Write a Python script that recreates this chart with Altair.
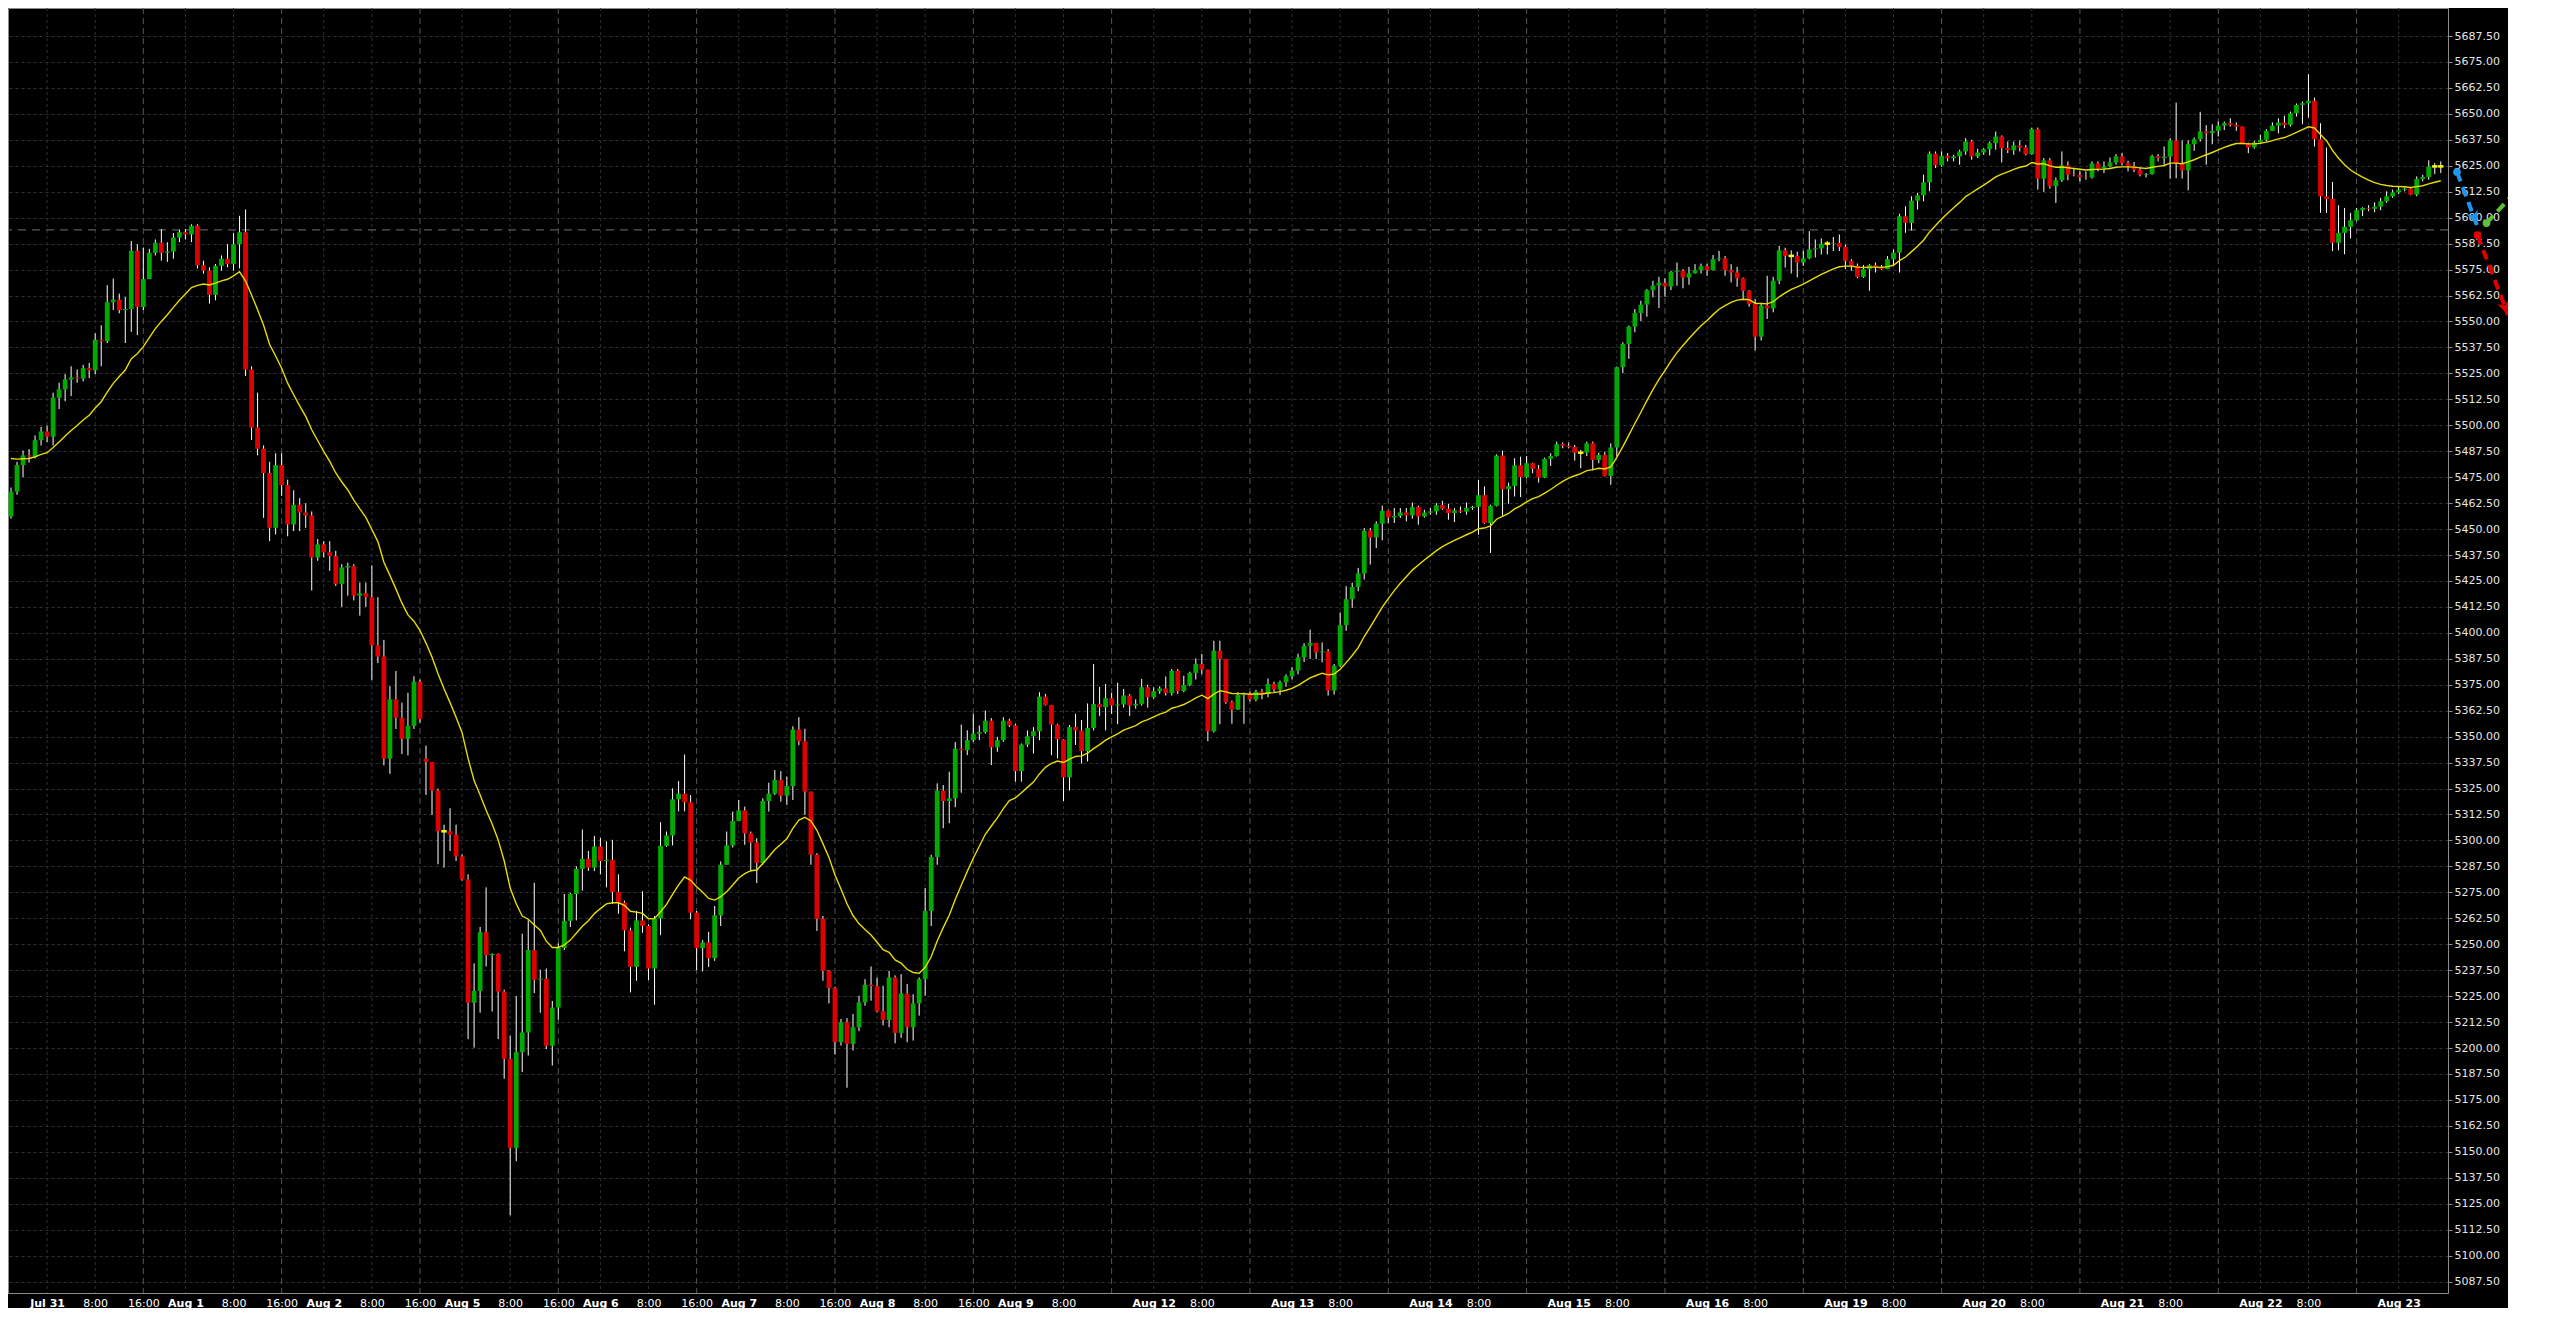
import math
import altair as alt
import pandas as pd

# ---------------- data (hourly candles) ----------------
close = [
    # 0-9
    5468.0, 5480.8, 5485.5, 5485.0, 5492.8, 5497.0, 5494.5, 5513.2, 5517.3, 5522.1,
    # 10-19
    5523.0, 5522.5, 5527.5, 5526.5, 5541.2, 5540.5, 5559.3, 5560.5, 5555.5, 5556.0,
    # 20-29
    5584.0, 5557.0, 5570.4, 5583.1, 5587.9, 5583.1, 5583.7, 5590.4, 5593.0, 5591.9,
    # 30-39
    5596.1, 5577.1, 5574.5, 5562.8, 5576.8, 5580.2, 5577.7, 5587.2, 5593.0, 5526.9,
    # 40-49
    5498.9, 5488.7, 5477.0, 5450.6, 5480.8, 5471.2, 5452.2, 5461.7, 5458.0, 5456.6,
    # 50-59
    5436.3, 5442.6, 5438.8, 5437.0, 5423.6, 5431.5, 5432.2, 5417.9, 5419.1, 5417.2,
    # 60-69
    5394.0, 5388.6, 5339.4, 5368.0, 5359.1, 5348.9, 5355.2, 5376.5, 5358.4, 5337.8,
    # 70-79
    5324.1, 5304.4, 5304.4, 5302.8, 5292.3, 5281.2, 5221.8, 5227.5, 5255.8, 5244.7,
    # 80-89
    5245.3, 5227.2, 5194.8, 5151.9, 5198.0, 5207.5, 5247.2, 5232.9, 5233.4, 5201.1,
    # 90-99
    5219.5, 5248.2, 5261.3, 5274.2, 5286.3, 5291.1, 5286.9, 5297.1, 5290.1, 5290.7,
    # 100-109
    5275.2, 5270.1, 5256.7, 5239.1, 5261.5, 5258.8, 5238.3, 5262.4, 5297.4, 5302.4,
    # 110-119
    5319.8, 5322.5, 5318.4, 5265.2, 5248.1, 5250.8, 5243.3, 5263.9, 5288.3, 5297.6,
    # 120-129
    5309.4, 5314.5, 5303.4, 5299.0, 5289.1, 5319.0, 5322.5, 5329.2, 5321.6, 5326.2,
    # 130-139
    5353.4, 5347.8, 5323.5, 5293.1, 5262.3, 5237.2, 5228.9, 5202.8, 5212.4, 5202.0,
    # 140-149
    5210.0, 5222.0, 5230.5, 5229.8, 5217.7, 5213.5, 5234.0, 5207.3, 5226.3, 5210.0,
    # 150-159
    5221.5, 5233.2, 5266.0, 5292.0, 5324.0, 5319.0, 5320.3, 5344.2, 5343.5, 5348.3,
    # 160-169
    5351.4, 5352.2, 5357.7, 5344.9, 5348.3, 5357.7, 5355.4, 5333.4, 5346.2, 5350.2,
    # 170-179
    5352.6, 5369.3, 5365.3, 5355.8, 5348.7, 5330.4, 5354.6, 5353.0, 5343.0, 5354.2,
    # 180-189
    5365.7, 5364.2, 5368.5, 5365.0, 5365.5, 5369.8, 5365.0, 5365.8, 5373.8, 5369.0,
    # 190-199
    5371.9, 5373.2, 5371.0, 5381.7, 5372.0, 5374.9, 5380.7, 5385.0, 5382.3, 5352.6,
    # 200-209
    5391.4, 5387.4, 5366.6, 5363.0, 5370.1, 5370.8, 5367.9, 5371.7, 5370.6, 5375.4,
    # 210-219
    5372.7, 5376.2, 5379.1, 5381.8, 5388.2, 5393.8, 5395.1, 5390.6, 5391.1, 5372.2,
    # 220-229
    5384.2, 5403.7, 5416.2, 5422.1, 5428.6, 5449.2, 5446.0, 5452.6, 5458.8, 5455.6,
    # 230-239
    5456.3, 5458.0, 5456.6, 5460.6, 5456.1, 5457.9, 5458.5, 5461.5, 5459.8, 5457.7,
    # 240-249
    5459.0, 5458.4, 5460.1, 5460.7, 5466.3, 5452.9, 5461.2, 5485.4, 5469.2, 5470.8,
    # 250-259
    5480.7, 5475.0, 5481.7, 5479.0, 5474.8, 5483.8, 5485.2, 5490.9, 5490.1, 5489.5,
    # 260-269
    5486.8, 5486.8, 5491.3, 5483.3, 5485.7, 5475.6, 5489.3, 5528.0, 5539.2, 5547.5,
    # 270-279
    5554.1, 5558.1, 5565.1, 5567.3, 5568.6, 5566.9, 5573.9, 5574.4, 5571.2, 5573.2,
    # 280-289
    5574.7, 5576.6, 5574.8, 5580.0, 5580.4, 5574.7, 5573.6, 5570.8, 5564.8, 5558.4,
    # 290-299
    5542.7, 5557.6, 5556.3, 5569.6, 5584.3, 5581.6, 5581.6, 5578.4, 5580.4, 5584.7,
    # 300-309
    5585.2, 5587.5, 5587.5, 5587.8, 5585.9, 5579.2, 5576.8, 5571.5, 5575.2, 5577.1,
    # 310-319
    5576.0, 5575.2, 5580.0, 5583.1, 5600.7, 5597.5, 5608.2, 5610.8, 5617.0, 5630.9,
    # 320-329
    5625.2, 5629.8, 5628.7, 5629.5, 5631.9, 5636.7, 5629.5, 5631.4, 5633.0, 5635.9,
    # 330-339
    5639.1, 5633.5, 5632.5, 5634.8, 5633.8, 5630.6, 5642.6, 5618.8, 5627.6, 5615.1,
    # 340-349
    5618.0, 5625.2, 5620.7, 5620.5, 5619.6, 5619.4, 5626.1, 5623.6, 5624.7, 5626.6,
    # 350-359
    5629.5, 5626.3, 5624.8, 5623.1, 5620.7, 5621.0, 5629.6, 5628.7, 5629.4, 5637.2,
    # 360-369
    5626.3, 5622.8, 5635.4, 5637.8, 5641.5, 5640.7, 5641.8, 5644.3, 5645.5, 5644.7,
    # 370-379
    5643.9, 5635.9, 5633.8, 5636.2, 5637.5, 5641.8, 5644.3, 5645.8, 5644.7, 5650.3,
    # 380-389
    5654.3, 5655.1, 5656.3, 5637.8, 5610.3, 5609.0, 5587.9, 5592.7, 5595.6, 5598.7,
    # 390-399
    5603.6, 5604.7, 5604.3, 5605.3, 5607.9, 5610.3, 5612.2, 5613.5, 5614.0, 5611.1,
    # 400-404
    5618.6, 5619.6, 5624.7, 5624.7, 5624.7,
]

high = [
    5470.0, 5482.4, 5487.8, 5488.5, 5495.1, 5499.2, 5499.8, 5515.7, 5520.5, 5524.6,
    5528.4, 5526.9, 5529.1, 5530.0, 5544.3, 5548.2, 5567.5, 5570.7, 5563.4, 5561.8,
    5588.8, 5587.2, 5585.6, 5585.0, 5589.5, 5594.5, 5588.2, 5592.6, 5594.2, 5594.5,
    5596.8, 5596.8, 5579.3, 5576.1, 5577.7, 5581.8, 5587.2, 5592.6, 5600.9, 5604.0,
    5528.4, 5515.7, 5490.3, 5482.4, 5486.5, 5486.5, 5473.8, 5468.7, 5464.9, 5462.4,
    5458.5, 5445.2, 5444.2, 5444.2, 5439.5, 5433.1, 5433.8, 5433.1, 5424.2, 5424.2,
    5432.5, 5417.2, 5396.6, 5374.3, 5381.6, 5366.4, 5371.1, 5379.1, 5377.5, 5345.7,
    5337.8, 5325.0, 5307.6, 5315.5, 5307.6, 5293.3, 5283.7, 5240.8, 5258.3, 5277.4,
    5245.6, 5245.6, 5228.1, 5205.9, 5225.0, 5255.1, 5261.5, 5279.6, 5237.7, 5238.3,
    5222.7, 5250.4, 5274.2, 5274.8, 5287.6, 5305.3, 5294.9, 5302.2, 5301.2, 5299.6,
    5300.3, 5283.7, 5271.0, 5258.0, 5266.0, 5275.5, 5259.6, 5263.6, 5308.8, 5304.3,
    5325.1, 5328.6, 5341.4, 5321.9, 5266.0, 5252.0, 5256.0, 5268.4, 5289.9, 5304.3,
    5313.9, 5319.5, 5316.3, 5304.3, 5301.1, 5320.3, 5327.8, 5333.9, 5333.4, 5330.7,
    5355.0, 5359.4, 5353.8, 5323.0, 5293.9, 5263.6, 5237.6, 5229.5, 5214.0, 5214.4,
    5216.4, 5225.2, 5233.2, 5239.3, 5234.0, 5230.0, 5237.2, 5235.0, 5235.6, 5230.8,
    5225.9, 5234.0, 5277.1, 5293.1, 5327.5, 5326.7, 5333.1, 5347.4, 5355.8, 5353.1,
    5361.0, 5355.4, 5362.6, 5358.9, 5349.9, 5359.4, 5358.6, 5356.2, 5346.7, 5353.0,
    5354.6, 5371.4, 5370.6, 5365.0, 5356.2, 5348.9, 5355.6, 5361.0, 5358.0, 5366.0,
    5385.0, 5374.0, 5375.4, 5371.0, 5376.0, 5373.0, 5370.5, 5368.0, 5377.8, 5375.0,
    5373.8, 5374.3, 5379.0, 5382.6, 5382.6, 5379.4, 5381.3, 5387.7, 5389.8, 5382.3,
    5396.2, 5396.2, 5387.4, 5367.4, 5371.4, 5371.2, 5371.6, 5372.6, 5373.0, 5378.0,
    5376.5, 5377.0, 5380.0, 5383.5, 5390.0, 5395.0, 5401.5, 5395.1, 5395.4, 5392.2,
    5385.0, 5409.8, 5422.5, 5424.2, 5431.3, 5450.5, 5450.5, 5453.7, 5461.2, 5459.0,
    5460.1, 5460.1, 5460.1, 5462.8, 5461.2, 5459.3, 5460.1, 5462.5, 5463.6, 5462.2,
    5460.1, 5460.9, 5462.8, 5461.2, 5473.7, 5470.5, 5461.7, 5486.0, 5487.8, 5472.4,
    5484.1, 5484.9, 5485.2, 5482.0, 5480.9, 5484.4, 5486.5, 5492.1, 5491.7, 5491.7,
    5490.5, 5488.1, 5492.1, 5492.1, 5486.8, 5487.3, 5491.3, 5528.3, 5540.0, 5548.0,
    5556.0, 5560.0, 5565.6, 5569.6, 5571.5, 5570.8, 5574.4, 5578.4, 5575.2, 5576.3,
    5577.6, 5577.9, 5577.9, 5582.0, 5584.0, 5581.5, 5577.6, 5576.3, 5571.2, 5565.1,
    5560.8, 5558.4, 5572.0, 5571.5, 5586.4, 5585.5, 5584.3, 5583.6, 5584.0, 5593.5,
    5589.5, 5590.0, 5588.7, 5590.7, 5591.9, 5587.1, 5580.0, 5577.9, 5577.2, 5577.6,
    5578.4, 5577.2, 5581.5, 5584.7, 5601.9, 5605.5, 5610.3, 5611.9, 5620.7, 5631.9,
    5631.9, 5631.9, 5631.1, 5630.3, 5632.7, 5638.3, 5637.5, 5633.2, 5633.5, 5636.7,
    5641.5, 5639.6, 5636.7, 5636.7, 5637.2, 5635.1, 5643.4, 5643.4, 5628.7, 5628.7,
    5619.4, 5631.9, 5627.1, 5623.9, 5622.3, 5622.3, 5627.1, 5627.1, 5627.1, 5629.0,
    5630.6, 5631.1, 5627.4, 5626.8, 5624.2, 5621.5, 5630.3, 5630.6, 5634.3, 5638.3,
    5655.4, 5637.2, 5637.2, 5638.6, 5651.0, 5644.6, 5645.0, 5646.3, 5646.3, 5647.9,
    5645.9, 5643.9, 5636.2, 5637.0, 5639.9, 5642.6, 5645.9, 5647.9, 5649.1, 5651.1,
    5655.0, 5655.9, 5669.1, 5657.8, 5645.5, 5633.8, 5617.2, 5606.0, 5604.7, 5602.3,
    5604.7, 5605.0, 5606.0, 5607.4, 5609.5, 5612.7, 5613.5, 5615.1, 5614.6, 5614.3,
    5619.9, 5620.7, 5627.6, 5626.3, 5627.1,
]

low = [
    5455.0, 5466.5, 5475.0, 5482.0, 5484.0, 5490.3, 5491.9, 5490.3, 5507.8, 5511.6,
    5514.1, 5520.5, 5521.1, 5522.7, 5524.6, 5528.4, 5539.6, 5555.5, 5553.9, 5539.6,
    5545.0, 5543.4, 5555.5, 5571.4, 5581.8, 5579.3, 5578.7, 5580.2, 5588.2, 5589.5,
    5588.2, 5575.5, 5573.0, 5558.6, 5560.2, 5574.5, 5576.1, 5574.5, 5575.5, 5523.7,
    5492.9, 5485.5, 5455.4, 5444.2, 5447.4, 5466.0, 5446.5, 5449.0, 5449.0, 5450.6,
    5420.4, 5434.7, 5436.3, 5429.9, 5422.6, 5412.5, 5417.9, 5415.6, 5408.3, 5412.5,
    5377.2, 5385.4, 5336.2, 5332.1, 5353.7, 5341.6, 5341.0, 5353.7, 5356.8, 5321.9,
    5312.3, 5288.5, 5286.9, 5294.9, 5290.1, 5280.6, 5204.3, 5200.2, 5217.0, 5239.3,
    5217.6, 5204.3, 5185.2, 5119.4, 5145.5, 5188.4, 5196.4, 5226.5, 5217.0, 5199.5,
    5191.6, 5213.8, 5247.2, 5258.3, 5261.5, 5275.8, 5285.3, 5285.3, 5283.7, 5277.4,
    5269.4, 5264.7, 5246.6, 5226.8, 5232.4, 5255.5, 5232.7, 5220.9, 5254.4, 5296.9,
    5297.6, 5314.0, 5314.0, 5262.0, 5237.5, 5236.9, 5239.0, 5242.0, 5258.8, 5289.9,
    5296.6, 5309.2, 5297.9, 5285.1, 5279.5, 5288.3, 5313.9, 5321.9, 5318.7, 5317.1,
    5319.5, 5345.9, 5312.3, 5288.3, 5256.4, 5232.4, 5221.5, 5196.9, 5201.2, 5180.9,
    5198.8, 5208.1, 5220.4, 5222.8, 5217.2, 5210.9, 5210.0, 5202.3, 5204.9, 5202.8,
    5203.6, 5215.6, 5225.2, 5258.8, 5288.3, 5305.9, 5308.3, 5316.0, 5323.0, 5341.1,
    5347.5, 5348.3, 5351.4, 5336.3, 5342.7, 5347.5, 5354.6, 5328.3, 5328.3, 5345.1,
    5341.9, 5348.3, 5365.0, 5341.1, 5339.5, 5319.0, 5324.0, 5346.0, 5337.0, 5338.0,
    5353.0, 5360.0, 5353.0, 5361.0, 5356.0, 5364.0, 5360.0, 5363.5, 5365.0, 5364.0,
    5368.2, 5370.6, 5369.8, 5369.8, 5370.6, 5371.4, 5374.3, 5377.5, 5380.0, 5347.8,
    5352.0, 5356.0, 5365.8, 5356.2, 5362.9, 5356.2, 5367.0, 5367.0, 5368.0, 5369.0,
    5371.5, 5370.0, 5374.0, 5377.5, 5380.0, 5386.0, 5387.4, 5387.4, 5385.8, 5369.8,
    5370.3, 5383.5, 5401.0, 5412.0, 5420.0, 5425.7, 5432.9, 5440.9, 5444.6, 5452.9,
    5452.9, 5455.3, 5453.7, 5455.0, 5452.1, 5455.5, 5456.9, 5456.9, 5459.3, 5454.5,
    5453.4, 5457.7, 5456.9, 5459.3, 5447.3, 5452.6, 5438.5, 5460.9, 5456.4, 5462.2,
    5465.7, 5465.4, 5474.5, 5476.9, 5472.4, 5474.5, 5480.4, 5484.9, 5488.9, 5488.9,
    5483.0, 5479.3, 5485.2, 5478.2, 5481.7, 5475.3, 5471.3, 5484.9, 5525.1, 5532.0,
    5544.8, 5550.1, 5552.3, 5561.6, 5556.5, 5561.9, 5565.1, 5567.2, 5566.0, 5567.7,
    5573.0, 5573.1, 5572.0, 5574.5, 5579.0, 5572.0, 5568.8, 5566.7, 5560.3, 5557.1,
    5536.0, 5540.8, 5551.2, 5554.4, 5568.0, 5576.0, 5573.1, 5571.2, 5576.8, 5580.0,
    5580.8, 5582.3, 5582.3, 5583.9, 5583.9, 5575.2, 5574.4, 5570.8, 5571.0, 5564.8,
    5573.6, 5574.8, 5575.6, 5576.8, 5573.6, 5592.7, 5593.9, 5603.9, 5607.9, 5612.7,
    5623.9, 5624.5, 5627.1, 5627.1, 5625.5, 5630.3, 5627.9, 5628.7, 5630.3, 5630.0,
    5632.7, 5626.6, 5631.1, 5630.3, 5631.9, 5630.0, 5630.3, 5613.5, 5612.4, 5614.0,
    5607.1, 5617.2, 5618.0, 5619.9, 5617.5, 5618.3, 5618.8, 5622.3, 5621.5, 5624.2,
    5625.5, 5625.2, 5622.3, 5622.0, 5619.9, 5619.4, 5620.7, 5627.1, 5625.5, 5618.8,
    5619.0, 5618.8, 5613.2, 5632.2, 5636.7, 5625.5, 5635.4, 5639.1, 5642.2, 5643.9,
    5641.8, 5635.4, 5631.1, 5633.2, 5635.4, 5636.7, 5641.8, 5640.7, 5643.1, 5643.9,
    5648.7, 5645.0, 5648.2, 5634.3, 5602.3, 5602.3, 5583.9, 5584.3, 5582.4, 5590.0,
    5598.3, 5600.7, 5603.1, 5602.6, 5603.6, 5607.1, 5609.5, 5611.4, 5612.7, 5610.8,
    5610.3, 5617.5, 5618.3, 5621.0, 5621.5,
]

# opens differ from the previous close only at these bars (first bar, weekend gap)
gap_open = {0: 5456.0, 69: 5339.4}

# session structure: 6 bars before Jul 31 00:00, then 23 hourly bars per day
days = ["Jul 31", "Aug 1", "Aug 2", "Aug 5", "Aug 6", "Aug 7", "Aug 8", "Aug 9",
        "Aug 12", "Aug 13", "Aug 14", "Aug 15", "Aug 16", "Aug 19", "Aug 20",
        "Aug 21", "Aug 22", "Aug 23"]
pre_bars = 6
bars_per_day = 23
days_with_16 = 7          # days that still show a "16:00" label

level_line = 5594.1       # dashed horizontal level
ema_period = 20
ema_start = 5484.0        # indicator value visible at the first bar

y_ticks = [5087.5 + 12.5 * k for k in range(49)]

arrow_names = ["blue", "green", "red"]
arrow_x0 = [406.7, 411.6, 410.1]
arrow_y0 = [5622.0, 5597.4, 5591.6]
arrow_x1 = [410.0, 421.8, 415.2]
arrow_y1 = [5596.5, 5629.2, 5553.1]

# ---------------- build tables ----------------
n = len(close)
assert len(high) == n and len(low) == n
opens = [gap_open.get(i, close[i - 1] if i > 0 else close[0]) for i in range(n)]
hi = [max(h, o, c) for h, o, c in zip(high, opens, close)]
lo = [min(l, o, c) for l, o, c in zip(low, opens, close)]
kind = ["flat" if abs(c - o) < 1e-9 else ("up" if c > o else "down") for o, c in zip(opens, close)]

alpha = 2.0 / (ema_period + 1)
ema = [ema_start]
for c in close[1:]:
    ema.append(ema[-1] + alpha * (c - ema[-1]))

df = pd.DataFrame({"i": list(range(n)), "open": opens, "high": hi, "low": lo,
                   "close": close, "kind": kind, "ma": ema})

tick_pos, tick_lab, day_pos = [], [], []
dim_pos, bright_pos = [], []
for d, name in enumerate(days):
    p0 = pre_bars + bars_per_day * d
    tick_pos.append(p0); tick_lab.append(name); day_pos.append(p0)
    dim_pos.append(p0)
    if p0 + 8 < n:
        tick_pos.append(p0 + 8); tick_lab.append("8:00"); dim_pos.append(p0 + 8)
    if p0 + 16 < n:
        bright_pos.append(p0 + 16)
        if d < days_with_16:
            tick_pos.append(p0 + 16); tick_lab.append("16:00")

lab_js = "[" + ",".join("'%s'" % t for t in tick_lab) + "]"
pos_js = "[" + ",".join(str(p) for p in tick_pos) + "]"
day_js = "[" + ",".join(str(p) for p in day_pos) + "]"

W, H = 2440, 1285
x_dom = [-0.5, 405.2]
y_dom = [5082, 5701]
xs = alt.Scale(domain=x_dom, nice=False, zero=False)
ys = alt.Scale(domain=y_dom, nice=False, zero=False)
px_x = W / (x_dom[1] - x_dom[0])
px_y = H / (y_dom[1] - y_dom[0])

x_axis = alt.Axis(orient="bottom", values=tick_pos, labelExpr=f"{lab_js}[indexof({pos_js}, datum.value)]",
                  grid=False, ticks=False, domainColor="#8c8c8c", labelColor="#ffffff",
                  labelFont="DejaVu Sans", labelFontSize=11,
                  labelFontWeight={"condition": {"test": f"indexof({day_js}, datum.value) >= 0", "value": "bold"},
                                   "value": "normal"},
                  labelPadding=4, labelFlush=False, labelOverlap=False, labelBound=False, title=None)
y_axis = alt.Axis(orient="right", values=y_ticks, format=".2f", labelColor="#e4e4e4",
                  labelFont="DejaVu Sans", labelFontSize=11, tickColor="#8c8c8c", tickSize=4,
                  domainColor="#8c8c8c", grid=True, gridColor="#303030", gridDash=[3, 3],
                  labelPadding=2, labelOverlap=False, labelFlush=False, title=None)


def X(f):
    return alt.X(f, type="quantitative", scale=xs, axis=x_axis)


def Y(f):
    return alt.Y(f, type="quantitative", scale=ys, axis=y_axis)


base = alt.Chart(df)

grid_dim = alt.Chart(pd.DataFrame({"pos": dim_pos})).mark_rule(
    color="#303030", strokeDash=[3, 3], strokeWidth=1).encode(x=X("pos"))
grid_bright = alt.Chart(pd.DataFrame({"pos": bright_pos})).mark_rule(
    color="#555555", strokeDash=[6, 4], strokeWidth=1).encode(x=X("pos"))
level = alt.Chart(pd.DataFrame({"p": [level_line]})).mark_rule(
    color="#707070", strokeDash=[8, 6], strokeWidth=1).encode(y=Y("p"))

wick = base.mark_rule(color="#ffffff", strokeWidth=1).encode(x=X("i"), y=Y("low"), y2="high")
body = base.transform_filter("datum.kind != 'flat'").transform_calculate(
    xl="datum.i - 0.4", xr="datum.i + 0.4").mark_rect().encode(
    x=X("xl"), x2="xr", y=Y("open"), y2="close",
    color=alt.Color("kind:N", scale=alt.Scale(domain=["up", "down"], range=["#00aa00", "#dd0000"]),
                    legend=None))
doji = base.transform_filter("datum.kind == 'flat'").transform_calculate(
    xl="datum.i - 0.45", xr="datum.i + 0.45").mark_rule(color="#ffff00", strokeWidth=2.5).encode(
    x=X("xl"), x2="xr", y=Y("close"))
ma = base.mark_line(color="#e8dc00", strokeWidth=1.4).encode(x=X("i"), y=Y("ma"))

# arrow annotations
angles = [math.degrees(math.atan2((x1 - x0) * px_x, (y1 - y0) * px_y)) % 360
          for x0, y0, x1, y1 in zip(arrow_x0, arrow_y0, arrow_x1, arrow_y1)]
arr_df = pd.DataFrame({"name": arrow_names, "x0": arrow_x0, "y0": arrow_y0,
                       "x1": arrow_x1, "y1": arrow_y1, "ang": angles})
arrow_colors = {"blue": "#1e96f0", "green": "#5cc03a", "red": "#e00000"}
arrow_layers = []
for nm in arrow_names:
    sub = alt.Chart(arr_df).transform_filter(f"datum.name == '{nm}'")
    col = arrow_colors[nm]
    arrow_layers.append(sub.mark_rule(color=col, strokeWidth=4, strokeDash=[10, 6]).encode(
        x=X("x0"), x2="x1", y=Y("y0"), y2="y1"))
    arrow_layers.append(sub.mark_point(shape="circle", filled=True, size=60, opacity=1, color=col).encode(
        x=X("x0"), y=Y("y0")))
    arrow_layers.append(sub.mark_point(shape="M0,0L0.7,1.6L0,1.2L-0.7,1.6Z", filled=True, size=300,
                                       opacity=1, color=col, strokeWidth=0).encode(
        x=X("x1"), y=Y("y1"), angle=alt.Angle("ang:Q", scale=None)))

# the black canvas ends just after the price labels; the page shows beyond it
chart = alt.layer(grid_dim, grid_bright, level, wick, body, doji, ma, *arrow_layers).properties(
    width=W, height=H, background="#000000",
    padding={"left": 0, "top": 0, "right": 60, "bottom": 15},
    autosize=alt.AutoSizeParams(type="none"),
).configure_view(stroke="#8c8c8c", strokeWidth=1, fill="#000000")

chart.save("out.html", embed_options={"renderer": "svg", "actions": False})
